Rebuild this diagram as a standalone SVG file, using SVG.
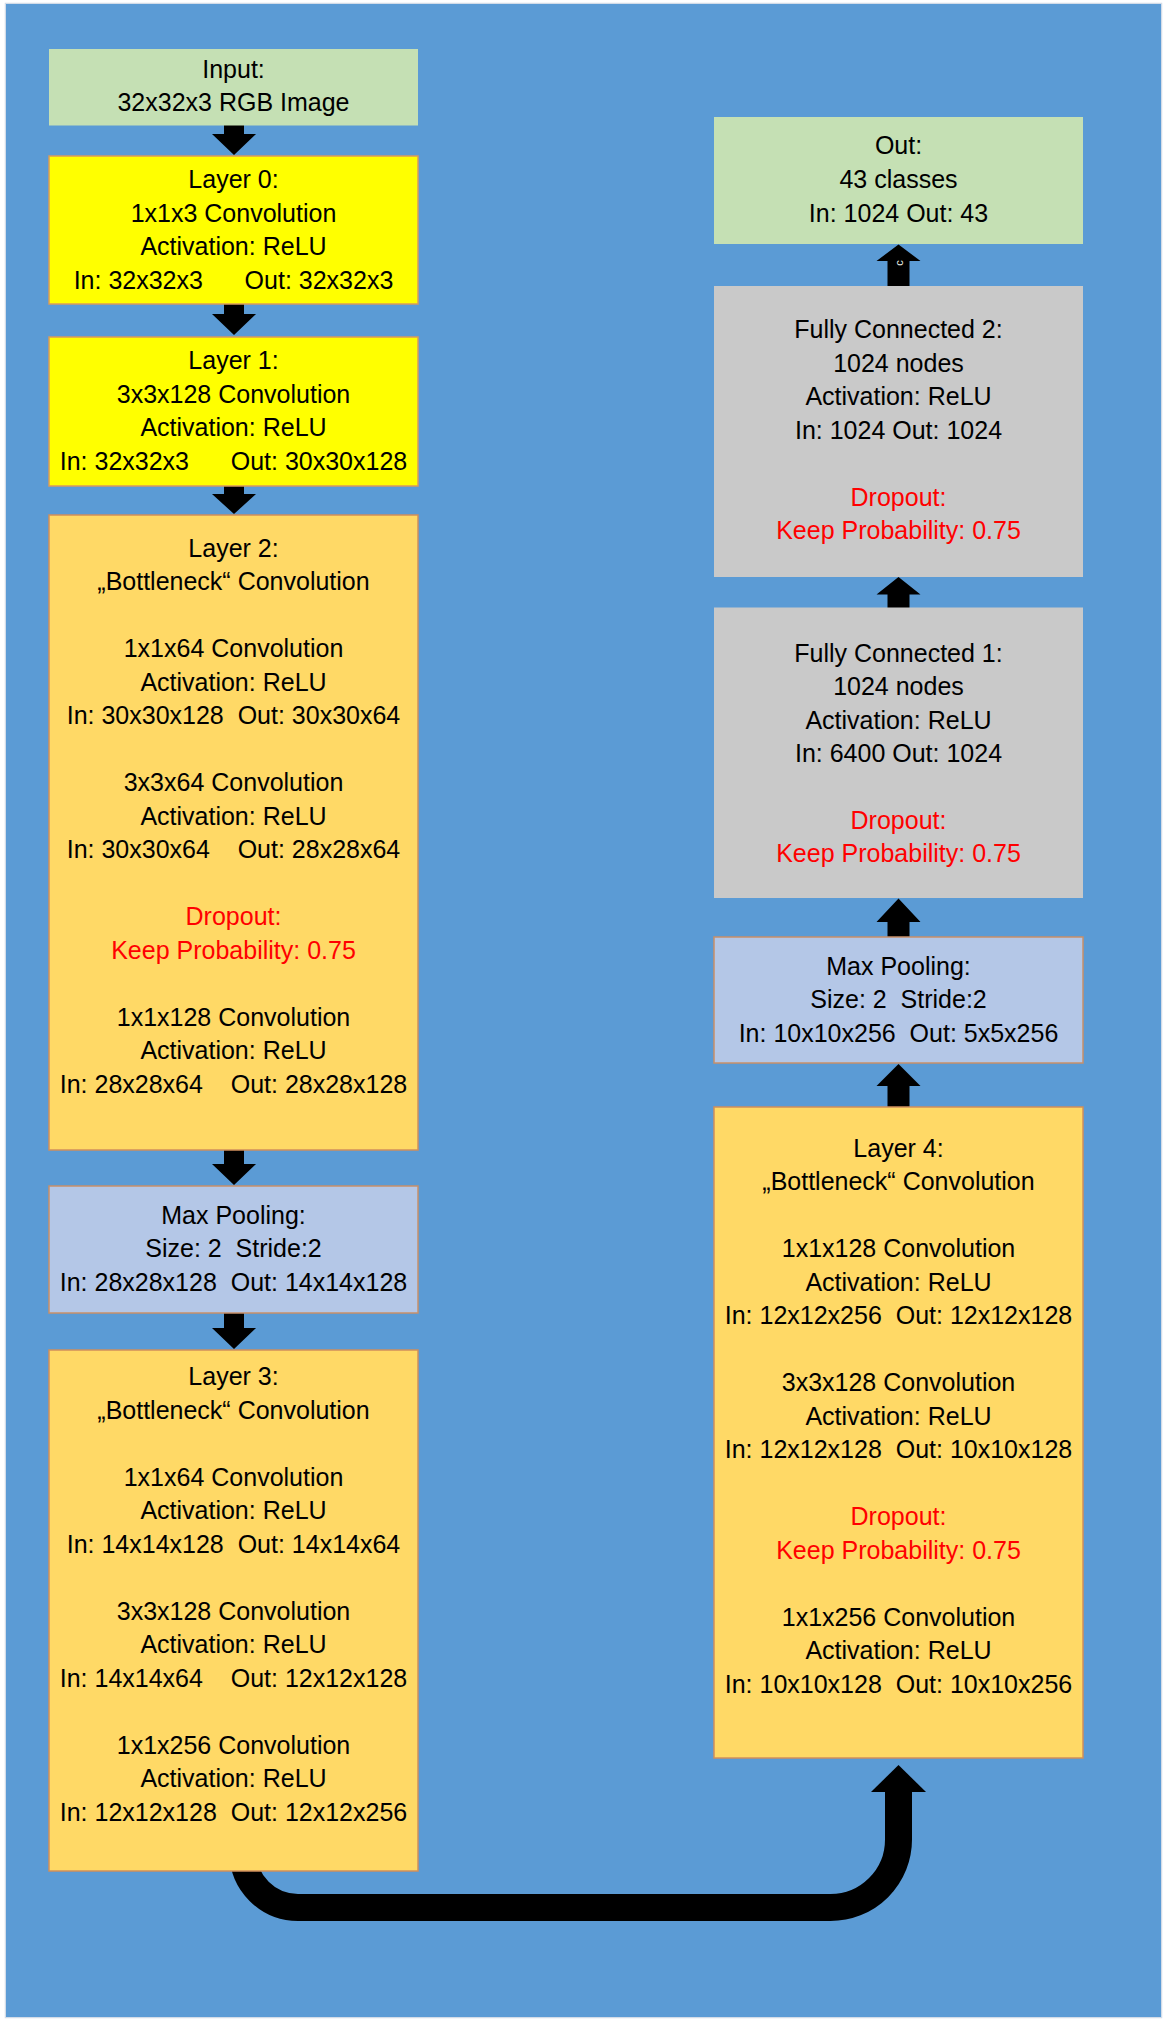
<svg xmlns="http://www.w3.org/2000/svg" width="1170" height="2028" viewBox="0 0 1170 2028" xml:space="preserve">
<style>
text{font-family:"Liberation Sans",Arial,sans-serif;font-size:25px;text-anchor:middle;fill:#000;white-space:pre}
.r{fill:#FF0000}
.green{fill:#C5E0B4}
.yellow{fill:#FFFF00;stroke:#D89A5E;stroke-width:1.5}
.gold{fill:#FFD966;stroke:#D08F5C;stroke-width:1.5}
.pool{fill:#B4C7E7;stroke:#C8906A;stroke-width:1.5}
.gray{fill:#C9C9C9}
.arr{fill:#000}
</style>
<rect x="0" y="0" width="1170" height="2028" fill="#FFFFFF"/>
<rect x="5.5" y="3.5" width="1156" height="2014" fill="none" stroke="#D3DCE8" stroke-width="1.5"/>
<rect x="6" y="4" width="1155" height="2013" fill="#5B9BD5"/>
<g id="connectors">
<polygon class="arr" points="224,124 244,124 244,134 256,134 234,155 212,134 224,134"/>
<polygon class="arr" points="224,303 244,303 244,314 256,314 234,335 212,314 224,314"/>
<polygon class="arr" points="224,485 244,485 244,494 256,494 234,514 212,494 224,494"/>
<polygon class="arr" points="224,1149 244,1149 244,1164 256,1164 234,1185 212,1164 224,1164"/>
<polygon class="arr" points="224,1312 244,1312 244,1328 256,1328 234,1349 212,1328 224,1328"/>
<polygon class="arr" points="887.5,1108 909.5,1108 909.5,1086 920.5,1086 898.5,1064 876.5,1086 887.5,1086"/>
<polygon class="arr" points="887.5,938 909.5,938 909.5,922 920.5,922 898.5,898.5 876.5,922 887.5,922"/>
<polygon class="arr" points="887.5,608 909.5,608 909.5,594.5 920.5,594.5 898.5,577 876.5,594.5 887.5,594.5"/>
<polygon class="arr" points="887.5,287 909.5,287 909.5,261 920.5,261 898.5,244.5 876.5,261 887.5,261"/>
<path d="M 243 1840 L 243 1852.5 A 55 55 0 0 0 298 1907.5 L 830.5 1907.5 A 68 68 0 0 0 898.5 1839.5 L 898.5 1790" fill="none" stroke="#000" stroke-width="27"/>
<polygon class="arr" points="871,1792 926,1792 898.5,1765"/>
<text x="903" y="263" transform="rotate(-90 903 263)" style="font-size:11px;fill:#EEF4E8">c</text>
</g>
<g id="input">
<rect class="green" x="49" y="49" width="369" height="76.5"/>
<text x="233.5" y="77.7">Input:</text>
<text x="233.5" y="111">32x32x3 RGB Image</text>
</g>
<g id="layer0">
<rect class="yellow" x="49" y="156" width="369" height="148"/>
<text x="233.5" y="188">Layer 0:</text>
<text x="233.5" y="221.5">1x1x3 Convolution</text>
<text x="233.5" y="255">Activation: ReLU</text>
<text x="233.5" y="288.5">In: 32x32x3      Out: 32x32x3</text>
</g>
<g id="layer1">
<rect class="yellow" x="49" y="337" width="369" height="149"/>
<text x="233.5" y="369">Layer 1:</text>
<text x="233.5" y="402.5">3x3x128 Convolution</text>
<text x="233.5" y="436">Activation: ReLU</text>
<text x="233.5" y="469.5">In: 32x32x3      Out: 30x30x128</text>
</g>
<g id="layer2">
<rect class="gold" x="49" y="515" width="369" height="635"/>
<text x="233.5" y="556.8">Layer 2:</text>
<text x="233.5" y="590.3">„Bottleneck“ Convolution</text>
<text x="233.5" y="657.3">1x1x64 Convolution</text>
<text x="233.5" y="690.8">Activation: ReLU</text>
<text x="233.5" y="724.3">In: 30x30x128  Out: 30x30x64</text>
<text x="233.5" y="791.3">3x3x64 Convolution</text>
<text x="233.5" y="824.8">Activation: ReLU</text>
<text x="233.5" y="858.3">In: 30x30x64    Out: 28x28x64</text>
<text class="r" x="233.5" y="925.3">Dropout:</text>
<text class="r" x="233.5" y="958.8">Keep Probability: 0.75</text>
<text x="233.5" y="1025.8">1x1x128 Convolution</text>
<text x="233.5" y="1059.3">Activation: ReLU</text>
<text x="233.5" y="1092.8">In: 28x28x64    Out: 28x28x128</text>
</g>
<g id="maxpool1">
<rect class="pool" x="49" y="1186" width="369" height="127"/>
<text x="233.5" y="1223.5">Max Pooling:</text>
<text x="233.5" y="1257">Size: 2  Stride:2</text>
<text x="233.5" y="1290.5">In: 28x28x128  Out: 14x14x128</text>
</g>
<g id="layer3">
<rect class="gold" x="49" y="1350" width="369" height="521"/>
<text x="233.5" y="1385">Layer 3:</text>
<text x="233.5" y="1418.5">„Bottleneck“ Convolution</text>
<text x="233.5" y="1485.5">1x1x64 Convolution</text>
<text x="233.5" y="1519">Activation: ReLU</text>
<text x="233.5" y="1552.5">In: 14x14x128  Out: 14x14x64</text>
<text x="233.5" y="1619.5">3x3x128 Convolution</text>
<text x="233.5" y="1653">Activation: ReLU</text>
<text x="233.5" y="1686.5">In: 14x14x64    Out: 12x12x128</text>
<text x="233.5" y="1753.5">1x1x256 Convolution</text>
<text x="233.5" y="1787">Activation: ReLU</text>
<text x="233.5" y="1820.5">In: 12x12x128  Out: 12x12x256</text>
</g>
<g id="out">
<rect class="green" x="714" y="117" width="369" height="127"/>
<text x="898.5" y="154">Out:</text>
<text x="898.5" y="188">43 classes</text>
<text x="898.5" y="221.5">In: 1024 Out: 43</text>
</g>
<g id="fc2">
<rect class="gray" x="714" y="286" width="369" height="291"/>
<text x="898.5" y="338.3">Fully Connected 2:</text>
<text x="898.5" y="371.8">1024 nodes</text>
<text x="898.5" y="405.3">Activation: ReLU</text>
<text x="898.5" y="438.8">In: 1024 Out: 1024</text>
<text class="r" x="898.5" y="505.8">Dropout:</text>
<text class="r" x="898.5" y="539.3">Keep Probability: 0.75</text>
</g>
<g id="fc1">
<rect class="gray" x="714" y="607.5" width="369" height="290.5"/>
<text x="898.5" y="661.8">Fully Connected 1:</text>
<text x="898.5" y="695.2">1024 nodes</text>
<text x="898.5" y="728.6">Activation: ReLU</text>
<text x="898.5" y="762">In: 6400 Out: 1024</text>
<text class="r" x="898.5" y="828.8">Dropout:</text>
<text class="r" x="898.5" y="862.2">Keep Probability: 0.75</text>
</g>
<g id="maxpool2">
<rect class="pool" x="714" y="937" width="369" height="126"/>
<text x="898.5" y="975">Max Pooling:</text>
<text x="898.5" y="1008.3">Size: 2  Stride:2</text>
<text x="898.5" y="1041.6">In: 10x10x256  Out: 5x5x256</text>
</g>
<g id="layer4">
<rect class="gold" x="714" y="1107" width="369" height="651"/>
<text x="898.5" y="1156.8">Layer 4:</text>
<text x="898.5" y="1190.3">„Bottleneck“ Convolution</text>
<text x="898.5" y="1257.3">1x1x128 Convolution</text>
<text x="898.5" y="1290.8">Activation: ReLU</text>
<text x="898.5" y="1324.3">In: 12x12x256  Out: 12x12x128</text>
<text x="898.5" y="1391.3">3x3x128 Convolution</text>
<text x="898.5" y="1424.8">Activation: ReLU</text>
<text x="898.5" y="1458.3">In: 12x12x128  Out: 10x10x128</text>
<text class="r" x="898.5" y="1525.3">Dropout:</text>
<text class="r" x="898.5" y="1558.8">Keep Probability: 0.75</text>
<text x="898.5" y="1625.8">1x1x256 Convolution</text>
<text x="898.5" y="1659.3">Activation: ReLU</text>
<text x="898.5" y="1692.8">In: 10x10x128  Out: 10x10x256</text>
</g>
</svg>
